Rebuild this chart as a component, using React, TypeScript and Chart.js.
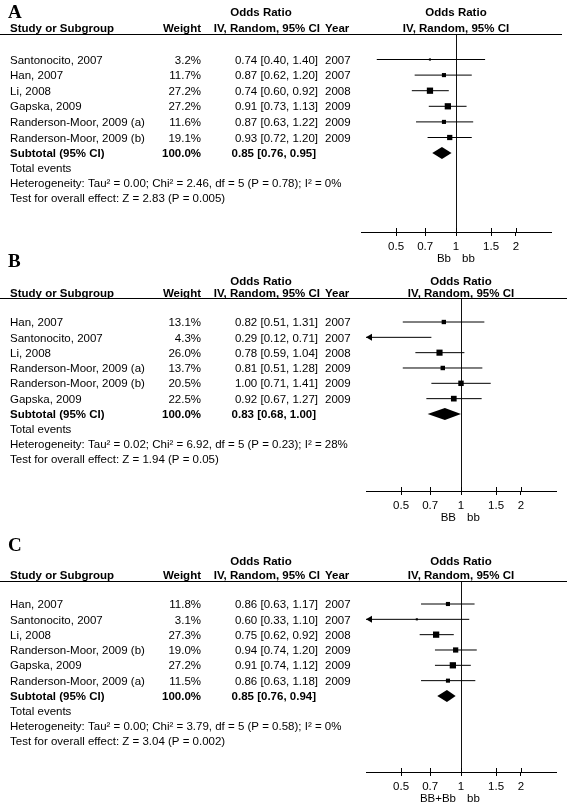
import React, { useEffect, useRef } from 'react';
import { Chart, registerables } from 'chart.js';
Chart.register(...registerables);

const W = 567;
const H = 802;
const SANS = '"Liberation Sans", Arial, Helvetica, sans-serif';
const SERIF = '"Liberation Serif", "Times New Roman", serif';

// ---------- Data ----------
const AXIS_TICKS = [0.5, 0.7, 1, 1.5, 2];
const AXIS_MIN = 1 / 3;
const AXIS_MAX = 3;

const STUDIES_A = ['Santonocito, 2007', 'Han, 2007', 'Li, 2008', 'Gapska, 2009', 'Randerson-Moor, 2009 (a)', 'Randerson-Moor, 2009 (b)'];
const WEIGHT_A = [3.2, 11.7, 27.2, 27.2, 11.6, 19.1];
const OR_A = [0.74, 0.87, 0.74, 0.91, 0.87, 0.93];
const LO_A = [0.40, 0.62, 0.60, 0.73, 0.63, 0.72];
const HI_A = [1.40, 1.20, 0.92, 1.13, 1.22, 1.20];
const YEAR_A = [2007, 2007, 2008, 2009, 2009, 2009];
const SUB_A = [0.85, 0.76, 0.95];
const SUBW_A = 100.0;
const HET_A = 'Heterogeneity: Tau² = 0.00; Chi² = 2.46, df = 5 (P = 0.78); I² = 0%';
const TEST_A = 'Test for overall effect: Z = 2.83 (P = 0.005)';
const FAV_A = ['Bb', 'bb'];

const STUDIES_B = ['Han, 2007', 'Santonocito, 2007', 'Li, 2008', 'Randerson-Moor, 2009 (a)', 'Randerson-Moor, 2009 (b)', 'Gapska, 2009'];
const WEIGHT_B = [13.1, 4.3, 26.0, 13.7, 20.5, 22.5];
const OR_B = [0.82, 0.29, 0.78, 0.81, 1.00, 0.92];
const LO_B = [0.51, 0.12, 0.59, 0.51, 0.71, 0.67];
const HI_B = [1.31, 0.71, 1.04, 1.28, 1.41, 1.27];
const YEAR_B = [2007, 2007, 2008, 2009, 2009, 2009];
const SUB_B = [0.83, 0.68, 1.00];
const SUBW_B = 100.0;
const HET_B = 'Heterogeneity: Tau² = 0.02; Chi² = 6.92, df = 5 (P = 0.23); I² = 28%';
const TEST_B = 'Test for overall effect: Z = 1.94 (P = 0.05)';
const FAV_B = ['BB', 'bb'];

const STUDIES_C = ['Han, 2007', 'Santonocito, 2007', 'Li, 2008', 'Randerson-Moor, 2009 (b)', 'Gapska, 2009', 'Randerson-Moor, 2009 (a)'];
const WEIGHT_C = [11.8, 3.1, 27.3, 19.0, 27.2, 11.5];
const OR_C = [0.86, 0.60, 0.75, 0.94, 0.91, 0.86];
const LO_C = [0.63, 0.33, 0.62, 0.74, 0.74, 0.63];
const HI_C = [1.17, 1.10, 0.92, 1.20, 1.12, 1.18];
const YEAR_C = [2007, 2007, 2008, 2009, 2009, 2009];
const SUB_C = [0.85, 0.76, 0.94];
const SUBW_C = 100.0;
const HET_C = 'Heterogeneity: Tau² = 0.00; Chi² = 3.79, df = 5 (P = 0.58); I² = 0%';
const TEST_C = 'Test for overall effect: Z = 3.04 (P = 0.002)';
const FAV_C = ['BB+Bb', 'bb'];

// ---------- Layout (positions only) ----------
type Layout = {
  line: number; axis: number; row0: number; step: number; left: number; right: number;
  lineRight: number; letterY: number; orDy: number; hdrDy: number;
};
type Panel = {
  letter: string; studies: string[]; weights: number[]; or: number[]; lo: number[]; hi: number[]; years: number[];
  sub: number[]; subW: number; het: string; test: string; fav: string[]; layout: Layout;
};

const PANELS: Panel[] = [
  { letter: 'A', studies: STUDIES_A, weights: WEIGHT_A, or: OR_A, lo: LO_A, hi: HI_A, years: YEAR_A, sub: SUB_A, subW: SUBW_A, het: HET_A, test: TEST_A, fav: FAV_A,
    layout: { line: 34, axis: 232, row0: 59.5, step: 15.6, left: 361, right: 551, lineRight: 562, letterY: 13, orDy: 21, hdrDy: 5 } },
  { letter: 'B', studies: STUDIES_B, weights: WEIGHT_B, or: OR_B, lo: LO_B, hi: HI_B, years: YEAR_B, sub: SUB_B, subW: SUBW_B, het: HET_B, test: TEST_B, fav: FAV_B,
    layout: { line: 298, axis: 491, row0: 322, step: 15.33, left: 366, right: 556, lineRight: 567, letterY: 262, orDy: 16, hdrDy: 4.5 } },
  { letter: 'C', studies: STUDIES_C, weights: WEIGHT_C, or: OR_C, lo: LO_C, hi: HI_C, years: YEAR_C, sub: SUB_C, subW: SUBW_C, het: HET_C, test: TEST_C, fav: FAV_C,
    layout: { line: 581, axis: 772, row0: 604, step: 15.33, left: 366, right: 556, lineRight: 567, letterY: 546, orDy: 19, hdrDy: 5 } },
];

const COL_NAME = 10;
const COL_WEIGHT = 201;
const COL_CI = 318;
const COL_YEAR = 325;
const COL_MID_HEADER = 261;
const FS = 11.5;
const FOOT_STEP = 15;

const fmt = (v: number) => v.toFixed(2);

function makeConfig(p: Panel): any {
  const L = p.layout;
  const ymin = -(L.row0 - L.line) / L.step;
  const ymax = ymin + (L.axis - L.line) / L.step;

  const ciSets = p.studies.map((_, i) => ({
    type: 'scatter',
    data: [{ x: p.lo[i], y: i }, { x: p.hi[i], y: i }],
    showLine: true,
    borderColor: '#000',
    borderWidth: 1,
    pointRadius: 0,
    order: 2,
  }));
  const squares = {
    type: 'scatter',
    data: p.or.map((v, i) => ({ x: v, y: i })),
    pointStyle: 'rect',
    pointRadius: p.weights.map((w) => (1.2 * Math.sqrt(w)) / Math.SQRT2),
    pointHoverRadius: p.weights.map((w) => (1.2 * Math.sqrt(w)) / Math.SQRT2),
    backgroundColor: '#000',
    borderWidth: 0,
    order: 0,
  };

  const txt = (ctx: CanvasRenderingContext2D, s: string, x: number, y: number, align: CanvasTextAlign, bold = false, size = FS, family = SANS) => {
    ctx.font = `${bold ? 'bold ' : ''}${size}px ${family}`;
    ctx.textAlign = align;
    ctx.textBaseline = 'middle';
    ctx.fillStyle = '#000';
    ctx.fillText(s, x, y);
  };

  const plugin = {
    id: 'forest' + p.letter,
    beforeDatasetsDraw(chart: any) {
      const { ctx, chartArea, scales } = chart;
      const x1 = Math.round(scales.x.getPixelForValue(1)) + 0.5;
      ctx.save();
      ctx.strokeStyle = '#111';
      ctx.lineWidth = 1;
      ctx.beginPath();
      ctx.moveTo(x1, chartArea.top);
      ctx.lineTo(x1, chartArea.bottom);
      ctx.stroke();
      ctx.restore();
    },
    afterDatasetsDraw(chart: any) {
      const { ctx, chartArea, scales } = chart;
      const xs = scales.x, ys = scales.y;
      ctx.save();
      ctx.fillStyle = '#000';
      p.studies.forEach((_, i) => {
        const y = ys.getPixelForValue(i);
        if (p.lo[i] < AXIS_MIN) {
          const x = chartArea.left;
          ctx.beginPath();
          ctx.moveTo(x, y);
          ctx.lineTo(x + 6, y - 3.5);
          ctx.lineTo(x + 6, y + 3.5);
          ctx.closePath();
          ctx.fill();
        }
        if (p.hi[i] > AXIS_MAX) {
          const x = chartArea.right;
          ctx.beginPath();
          ctx.moveTo(x, y);
          ctx.lineTo(x - 6, y - 3.5);
          ctx.lineTo(x - 6, y + 3.5);
          ctx.closePath();
          ctx.fill();
        }
      });
      const yd = ys.getPixelForValue(p.studies.length);
      const xe = xs.getPixelForValue(p.sub[0]);
      const xl = xs.getPixelForValue(p.sub[1]);
      const xr = xs.getPixelForValue(p.sub[2]);
      ctx.beginPath();
      ctx.moveTo(xl, yd);
      ctx.lineTo(xe, yd - 6);
      ctx.lineTo(xr, yd);
      ctx.lineTo(xe, yd + 6);
      ctx.closePath();
      ctx.fill();
      ctx.restore();
    },
    afterDraw(chart: any) {
      const { ctx, chartArea, scales } = chart;
      const xs = scales.x, ys = scales.y;
      const xc = xs.getPixelForValue(1);
      ctx.save();
      txt(ctx, p.letter, 8, L.letterY, 'left', true, 19, SERIF);
      txt(ctx, 'Odds Ratio', COL_MID_HEADER, L.line - L.orDy, 'center', true);
      txt(ctx, 'Odds Ratio', xc, L.line - L.orDy, 'center', true);
      txt(ctx, 'Study or Subgroup', COL_NAME, L.line - L.hdrDy, 'left', true);
      txt(ctx, 'Weight', COL_WEIGHT, L.line - L.hdrDy, 'right', true);
      txt(ctx, 'IV, Random, 95% CI', COL_CI + 2, L.line - L.hdrDy, 'right', true);
      txt(ctx, 'Year', COL_YEAR, L.line - L.hdrDy, 'left', true);
      txt(ctx, 'IV, Random, 95% CI', xc, L.line - L.hdrDy, 'center', true);
      ctx.strokeStyle = '#000';
      ctx.lineWidth = 1.2;
      ctx.beginPath();
      ctx.moveTo(0, chartArea.top + 0.5);
      ctx.lineTo(L.lineRight, chartArea.top + 0.5);
      ctx.stroke();
      p.studies.forEach((s, i) => {
        const y = ys.getPixelForValue(i) + 1;
        txt(ctx, s, COL_NAME, y, 'left');
        txt(ctx, p.weights[i].toFixed(1) + '%', COL_WEIGHT, y, 'right');
        txt(ctx, `${fmt(p.or[i])} [${fmt(p.lo[i])}, ${fmt(p.hi[i])}]`, COL_CI, y, 'right');
        txt(ctx, String(p.years[i]), COL_YEAR, y, 'left');
      });
      const n = p.studies.length;
      const ysub = ys.getPixelForValue(n) + 0.5;
      txt(ctx, 'Subtotal (95% CI)', COL_NAME, ysub, 'left', true);
      txt(ctx, p.subW.toFixed(1) + '%', COL_WEIGHT, ysub, 'right', true);
      txt(ctx, `${fmt(p.sub[0])} [${fmt(p.sub[1])}, ${fmt(p.sub[2])}]`, COL_CI - 2, ysub, 'right', true);
      txt(ctx, 'Total events', COL_NAME, ysub + FOOT_STEP, 'left');
      txt(ctx, p.het, COL_NAME, ysub + 2 * FOOT_STEP, 'left');
      txt(ctx, p.test, COL_NAME, ysub + 3 * FOOT_STEP, 'left');
      ctx.strokeStyle = '#000';
      ctx.lineWidth = 1;
      AXIS_TICKS.forEach((t) => {
        const x = Math.round(xs.getPixelForValue(t)) + 0.5;
        ctx.beginPath();
        ctx.moveTo(x, chartArea.bottom - 4);
        ctx.lineTo(x, chartArea.bottom);
        ctx.stroke();
      });
      txt(ctx, p.fav[0], xc - 5, L.axis + 27, 'right');
      txt(ctx, p.fav[1], xc + 6, L.axis + 27, 'left');
      ctx.restore();
    },
  };

  return {
    type: 'scatter',
    data: { datasets: [squares, ...ciSets] },
    options: {
      animation: false,
      responsive: false,
      devicePixelRatio: 1,
      layout: { padding: { left: L.left, right: W - L.right, top: L.line, bottom: 0 } },
      plugins: { legend: { display: false }, tooltip: { enabled: false } },
      events: [],
      scales: {
        x: {
          type: 'logarithmic',
          bounds: 'data',
          min: AXIS_MIN,
          max: AXIS_MAX,
          afterBuildTicks: (s: any) => {
            s.ticks = AXIS_TICKS.map((v) => ({ value: v }));
          },
          afterFit: (s: any) => {
            s.height = H - L.axis;
          },
          ticks: {
            autoSkip: false,
            maxRotation: 0,
            padding: 3.5,
            color: '#000',
            font: { family: SANS, size: FS },
            callback: (v: any) => String(v),
          },
          grid: { drawOnChartArea: false, drawTicks: true, tickLength: 4, color: '#000', lineWidth: 1 },
          border: { display: true, color: '#000', width: 1 },
        },
        y: { type: 'linear', display: false, reverse: true, min: ymin, max: ymax },
      },
    },
    plugins: [plugin],
  };
}

function PanelChart({ panel }: { panel: Panel }) {
  const ref = useRef<HTMLCanvasElement>(null);
  useEffect(() => {
    const chart = new Chart(ref.current as HTMLCanvasElement, makeConfig(panel));
    return () => chart.destroy();
  }, [panel]);
  return (
    <canvas
      ref={ref}
      width={W}
      height={H}
      style={{ position: 'absolute', left: 0, top: 0, width: W, height: H }}
    />
  );
}

export default function App() {
  useEffect(() => {
    document.body.style.margin = '0';
  }, []);
  return (
    <div style={{ position: 'absolute', left: 0, top: 0, width: W, height: H, background: '#fff' }}>
      {PANELS.map((p) => (
        <PanelChart key={p.letter} panel={p} />
      ))}
    </div>
  );
}
